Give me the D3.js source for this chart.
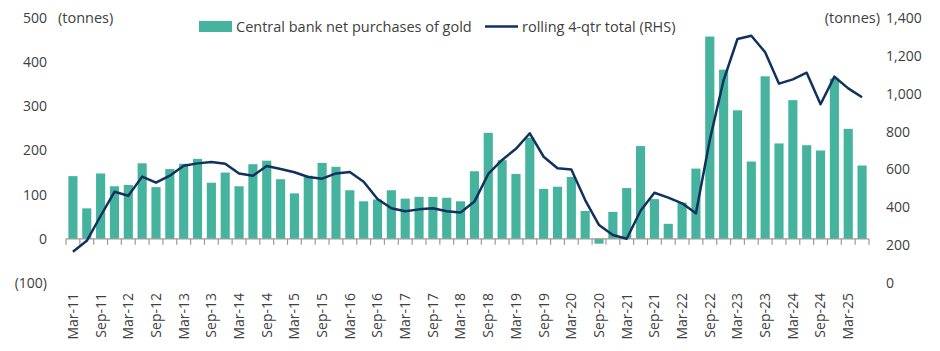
<!DOCTYPE html>
<html lang="en">
<head>
    <meta charset="UTF-8">
    <title>Central bank gold purchases</title>
    <script src="https://d3js.org/d3.v7.min.js"></script>
    <style>
        body {
            margin: 0;
            background: #fff;
            font-family: "Open Sans", "Noto Sans", sans-serif;
        }
        text {
            fill: #404040;
        }
    </style>
</head>
<body>
    <svg id="chart" width="940" height="351"></svg>
    <script>
        const width = 940;
        const height = 351;

        // quarterly categories, Mar-11 .. Jun-25
        const months = ["Mar", "Jun", "Sep", "Dec"];
        const categories = [];
        for (let yr = 11; yr <= 25; yr++) {
            months.forEach(m => categories.push(`${m}-${yr}`));
        }
        categories.splice(58); // stops at Jun-25

        // net purchases per quarter (tonnes, LHS)
        const purchases = [
            142, 69, 148, 119, 122, 171, 117, 158, 170, 181,
            127, 150, 119, 169, 177, 135, 103, 143, 172, 163,
            110, 85, 89, 110, 91, 95, 95, 93, 85, 153,
            240, 178, 147, 229, 113, 118, 140, 63, -11, 61,
            115, 210, 90, 34, 82, 159, 458, 383, 291, 175,
            368, 216, 314, 212, 200, 363, 249, 166
        ];

        // rolling 4-quarter total (tonnes, RHS)
        const rolling = [
            165, 223, 354, 482, 461, 562, 530, 567, 620, 632,
            639, 630, 579, 567, 618, 602, 585, 560, 551, 579,
            586, 535, 444, 395, 379, 389, 395, 379, 373, 430,
            576, 650, 709, 791, 667, 606, 600, 438, 306, 254,
            234, 382, 477, 451, 421, 368, 755, 1072, 1289, 1306,
            1219, 1053, 1076, 1111, 944, 1090, 1028, 981
        ];

        const leftTicks = [-100, 0, 100, 200, 300, 400, 500];
        const rightTicks = [0, 200, 400, 600, 800, 1000, 1200, 1400];
        const xLabels = categories.filter((d, i) => i % 2 === 0);

        const barColor = "#45b39d";
        const lineColor = "#11315e";

        const svg = d3.select("#chart");

        const x = d3.scaleBand()
            .domain(categories)
            .range([66, 869])
            .paddingInner(0.34)
            .paddingOuter(0.17);

        const yL = d3.scaleLinear().domain([-100, 500]).range([283, 18]);
        const yR = d3.scaleLinear().domain([0, 1400]).range([283, 18]);

        // left axis
        const fmtL = v => v < 0 ? `(${Math.abs(v)})` : `${v}`;
        svg.append("g")
            .attr("transform", "translate(47,0)")
            .call(d3.axisLeft(yL).tickValues(leftTicks).tickSize(0).tickPadding(0).tickFormat(fmtL))
            .call(g => g.select(".domain").remove())
            .selectAll("text")
            .style("font-size", "14px")
            .style("font-family", "'Open Sans', sans-serif")
            .attr("fill", "#404040");

        // right axis
        svg.append("g")
            .attr("transform", "translate(886,0)")
            .call(d3.axisRight(yR).tickValues(rightTicks).tickSize(0).tickPadding(0).tickFormat(d3.format(",")))
            .call(g => g.select(".domain").remove())
            .selectAll("text")
            .style("font-size", "14px")
            .style("font-family", "'Open Sans', sans-serif")
            .attr("fill", "#404040");

        svg.append("text")
            .attr("x", 58).attr("y", 23)
            .style("font-size", "14.5px")
            .text("(tonnes)");
        svg.append("text")
            .attr("x", 880).attr("y", 23)
            .attr("text-anchor", "end")
            .style("font-size", "14.5px")
            .text("(tonnes)");

        // bars
        svg.append("g")
            .selectAll("rect")
            .data(purchases)
            .join("rect")
            .attr("x", (d, i) => x(categories[i]))
            .attr("width", x.bandwidth())
            .attr("y", d => yL(Math.max(0, d)))
            .attr("height", d => Math.abs(yL(d) - yL(0)))
            .attr("fill", barColor);

        // x axis line with ticks between categories
        const y0 = yL(0);
        const step = x.step();
        const bounds = categories.map(c => x(c) - x.paddingInner() * step / 2)
            .concat([x(categories[categories.length - 1]) + x.bandwidth() + x.paddingInner() * step / 2]);
        const xa = svg.append("g").attr("stroke", "#9a9a9a").attr("stroke-width", 1.2);
        xa.append("line")
            .attr("x1", bounds[0]).attr("x2", bounds[bounds.length - 1])
            .attr("y1", y0).attr("y2", y0);
        xa.selectAll(".tk")
            .data(bounds)
            .join("line")
            .attr("class", "tk")
            .attr("x1", d => d).attr("x2", d => d)
            .attr("y1", y0).attr("y2", y0 + 6);

        // rolling line
        const line = d3.line()
            .x((d, i) => x(categories[i]) + x.bandwidth() / 2)
            .y(d => yR(d));
        svg.append("path")
            .datum(rolling)
            .attr("fill", "none")
            .attr("stroke", lineColor)
            .attr("stroke-width", 2.5)
            .attr("stroke-linejoin", "round")
            .attr("d", line);

        // x labels
        svg.append("g")
            .attr("transform", "translate(0,293)")
            .call(d3.axisBottom(x).tickValues(xLabels).tickSize(0).tickPadding(0))
            .call(g => g.select(".domain").remove())
            .selectAll("text")
            .attr("transform", "rotate(-90)")
            .attr("text-anchor", "end")
            .attr("dy", "0.35em")
            .attr("x", 0).attr("y", 0)
            .style("font-size", "14px")
            .style("font-family", "'Open Sans', sans-serif")
            .attr("fill", "#404040");

        // legend
        const lg = svg.append("g");
        lg.append("rect")
            .attr("x", 199).attr("y", 21)
            .attr("width", 33).attr("height", 11)
            .attr("fill", barColor);
        lg.append("text")
            .attr("x", 236).attr("y", 31.5)
            .style("font-size", "14.5px")
            .text("Central bank net purchases of gold");
        lg.append("line")
            .attr("x1", 485).attr("x2", 518)
            .attr("y1", 26.5).attr("y2", 26.5)
            .attr("stroke", lineColor).attr("stroke-width", 2.5);
        lg.append("text")
            .attr("x", 522).attr("y", 31.5)
            .style("font-size", "14.5px")
            .text("rolling 4-qtr total (RHS)");
    </script>
</body>
</html>
